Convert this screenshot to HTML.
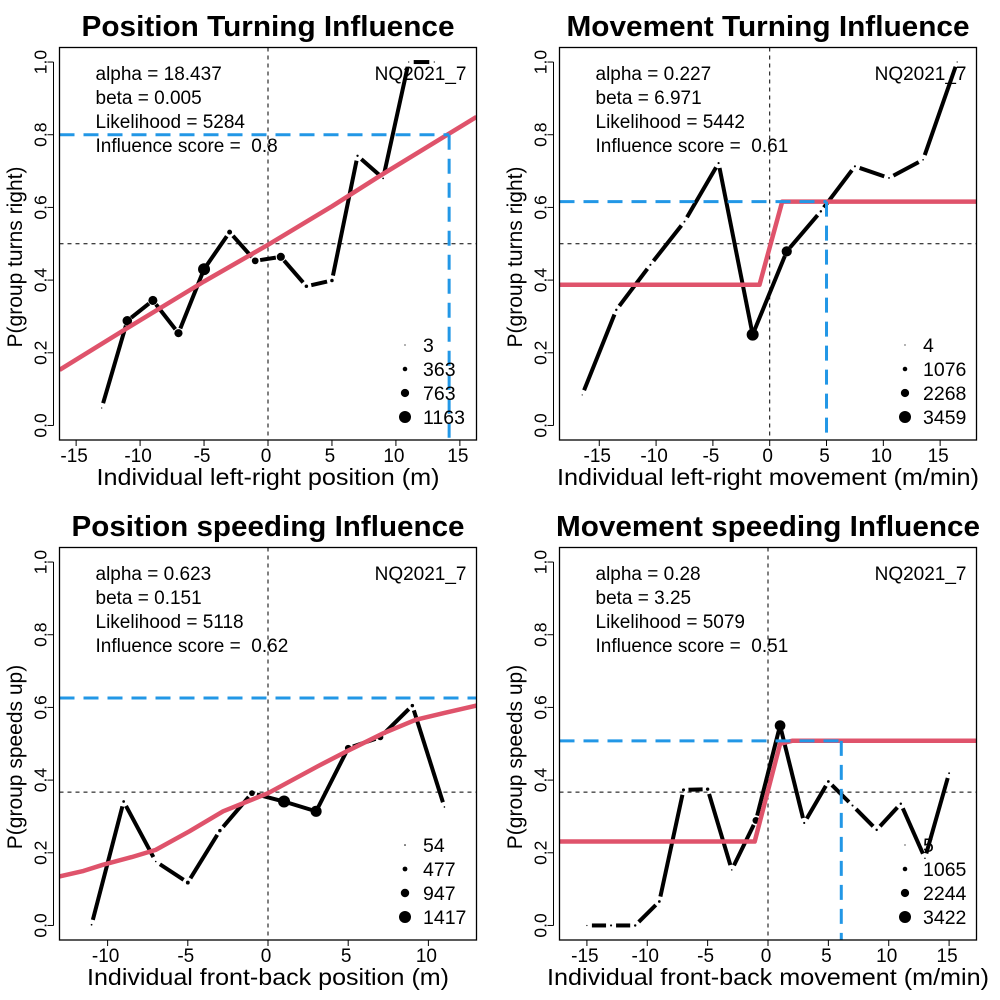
<!DOCTYPE html>
<html><head><meta charset="utf-8"><style>
html,body{margin:0;padding:0;background:#fff;}
svg{display:block;font-family:"Liberation Sans",Arial,sans-serif;}
</style></head><body>
<svg id="fig" width="1000" height="1000" viewBox="0 0 1000 1000"><rect width="1000" height="1000" fill="#fff"/></svg>
<script>
// ---- Panel 1 data ----
const p1X = [-13,-11,-9,-7,-5,-3,-1,1,3,5,7,9,11,13];
const p1Y = [0.048,0.288,0.344,0.254,0.43,0.532,0.453,0.464,0.383,0.399,0.742,0.68,1.0,1.0];
const p1N = [5,900,850,750,1163,400,600,750,250,250,120,60,8,3];
const p1CurveX = [-16.3,-11,-5,0,5,8.9,16.3];
const p1CurveY = [0.153,0.268,0.396,0.497,0.603,0.69,0.849];
const p1Legend = [3,363,763,1163];
const p1Text = ["alpha = 18.437","beta = 0.005","Likelihood = 5284","Influence score =  0.8"];
// ---- Panel 2 data ----
const p2X = [-16.5,-13.5,-10.5,-7.5,-4.5,-1.5,1.5,4.5,7.5,10.5,13.5,16.5];
const p2Y = [0.084,0.318,0.442,0.561,0.722,0.25,0.479,0.589,0.713,0.681,0.731,1.0];
const p2N = [10,400,300,250,300,3459,2900,400,300,200,150,4];
const p2CurveX = [-18.5,-0.9,1.1,18.5];
const p2CurveY = [0.387,0.387,0.616,0.616];
const p2Legend = [4,1076,2268,3459];
const p2Text = ["alpha = 0.227","beta = 6.971","Likelihood = 5442","Influence score =  0.61"];
// ---- Panel 3 data ----
const p3X = [-11,-9,-7,-5,-3,-1,1,3,5,7,9,11];
const p3Y = [0.002,0.341,0.176,0.118,0.261,0.364,0.341,0.314,0.488,0.518,0.605,0.326];
const p3N = [80,200,54,350,300,600,1417,1300,700,650,300,54];
const p3CurveX = [-13,-11.5,-10.3,-8.5,-7,-4.9,-2.8,0,3.1,4.9,7.2,9.2,11,13];
const p3CurveY = [0.135,0.15,0.167,0.188,0.208,0.259,0.314,0.364,0.438,0.479,0.529,0.566,0.585,0.605];
const p3Legend = [54,477,947,1417];
const p3Text = ["alpha = 0.623","beta = 0.151","Likelihood = 5118","Influence score =  0.62"];
// ---- Panel 4 data ----
const p4X = [-15,-13,-11,-9,-7,-5,-3,-1,1,3,5,7,9,11,13,15];
const p4Y = [0.0,0.0,0.0,0.066,0.373,0.375,0.153,0.289,0.55,0.282,0.396,0.33,0.263,0.335,0.185,0.419];
const p4N = [5,300,400,500,600,700,100,1800,3000,300,500,300,400,400,100,200];
const p4CurveX = [-17.3,-1.1,1.0,2.0,17.3];
const p4CurveY = [0.231,0.231,0.50,0.508,0.508];
const p4Legend = [5,1065,2244,3422];
const p4Text = ["alpha = 0.28","beta = 3.25","Likelihood = 5079","Influence score =  0.51"];

const NS = "http://www.w3.org/2000/svg";
const svg = document.getElementById('fig');
function mk(tag, attrs, parent){
  const e = document.createElementNS(NS, tag);
  for (const k in attrs) e.setAttribute(k, attrs[k]);
  (parent||svg).appendChild(e);
  return e;
}

const panels = [
 {ox:0, oy:0, id:"position-turning", title:"Position Turning Influence", tw:373, ylab:"P(group turns right)", xlab:"Individual left-right position (m)", xw:343,
  xmin:-16.3, xmax:16.3, xticks:[-15,-10,-5,0,5,10,15], X:p1X, Y:p1Y, N:p1N, CX:p1CurveX, CY:p1CurveY, leg:p1Legend, txt:p1Text, href:0.5, blueY:0.8, blueX:14.16},
 {ox:500, oy:0, id:"movement-turning", title:"Movement Turning Influence", tw:403, ylab:"P(group turns right)", xlab:"Individual left-right movement (m/min)", xw:422,
  xmin:-18.5, xmax:18.2, xticks:[-15,-10,-5,0,5,10,15], X:p2X, Y:p2Y, N:p2N, CX:p2CurveX, CY:p2CurveY, leg:p2Legend, txt:p2Text, href:0.5, blueY:0.616, blueX:5.0},
 {ox:0, oy:500, id:"position-speeding", title:"Position speeding Influence", tw:393, ylab:"P(group speeds up)", xlab:"Individual front-back position (m)", xw:362,
  xmin:-13, xmax:13, xticks:[-10,-5,0,5,10], X:p3X, Y:p3Y, N:p3N, CX:p3CurveX, CY:p3CurveY, leg:p3Legend, txt:p3Text, href:0.367, blueY:0.626, blueX:null},
 {ox:500, oy:500, id:"movement-speeding", title:"Movement speeding Influence", tw:424, ylab:"P(group speeds up)", xlab:"Individual front-back movement (m/min)", xw:442,
  xmin:-17.27, xmax:17.27, xticks:[-15,-10,-5,0,5,10,15], X:p4X, Y:p4Y, N:p4N, CX:p4CurveX, CY:p4CurveY, leg:p4Legend, txt:p4Text, href:0.367, blueY:0.508, blueX:6.07}
];

panels.forEach((P, pi) => {
  const L = P.ox + 59.5, R = P.ox + 476.5, T = P.oy + 47.5, B = P.oy + 440;
  const sx = v => L + (v - P.xmin) / (P.xmax - P.xmin) * (R - L);
  const sy = v => B - (v + 0.04) / 1.08 * (B - T);
  const maxN = P.leg[P.leg.length-1];
  const rad = n => 0.6 + 5.4 * n / maxN;

  const g = mk('g', {});
  
  

  const cp = mk('clipPath', {id:'clip'+pi}, g);
  mk('rect', {x:L, y:T, width:R-L, height:B-T}, cp);

  // title
  const t = mk('text', {x:(L+R)/2, y:P.oy+36, 'text-anchor':'middle', 'font-size':'29', 'font-weight':'bold', fill:'#000', textLength:P.tw, lengthAdjust:'spacingAndGlyphs'}, g);
  t.textContent = P.title;
  
  

  // y axis
  const ya = mk('g', {}, g);
  
  
  mk('line', {x1:L-6, x2:L-6, y1:sy(0), y2:sy(1), stroke:'#000', 'stroke-width':1}, ya);
  [0,0.2,0.4,0.6,0.8,1.0].forEach(v => {
    mk('line', {x1:L-12, x2:L-6, y1:sy(v), y2:sy(v), stroke:'#000', 'stroke-width':1}, ya);
    const tl = mk('text', {x:0, y:0, transform:`translate(${L-13},${sy(v)}) rotate(-90)`, 'text-anchor':'middle', 'font-size':'17.5'}, ya);
    tl.textContent = v.toFixed(1);
    
    
  });
  const yt = mk('text', {x:0, y:0, transform:`translate(${P.ox+22},${P.oy+257}) rotate(-90)`, 'text-anchor':'middle', 'font-size':'21'}, ya);
  yt.textContent = P.ylab;
  
  

  // x axis
  const xa = mk('g', {}, g);
  
  
  P.xticks.forEach(v => {
    mk('line', {x1:sx(v), x2:sx(v), y1:B, y2:B+6, stroke:'#000', 'stroke-width':1}, xa);
    const tl = mk('text', {x:sx(v)-2, y:B+22, 'text-anchor':'middle', 'font-size':'19'}, xa);
    tl.textContent = String(v);
    
    
  });
  const xt = mk('text', {x:(L+R)/2, y:P.oy+485, 'text-anchor':'middle', 'font-size':'23.5', textLength:P.xw, lengthAdjust:'spacingAndGlyphs'}, xa);
  xt.textContent = P.xlab;
  
  

  const pg = mk('g', {'clip-path':`url(#clip${pi})`}, g);
  // reference lines
  const vl = mk('line', {x1:sx(0), x2:sx(0), y1:T, y2:B, stroke:'#000', 'stroke-width':1, 'stroke-dasharray':'4,4'}, pg);
  
  
  const hl = mk('line', {x1:L, x2:R, y1:sy(P.href), y2:sy(P.href), stroke:'#000', 'stroke-width':1, 'stroke-dasharray':'4,4'}, pg);
  
  

  // data line (type b, with gaps)
  const dl = mk('g', {}, pg);
  
  
  const gap = 5;
  for (let i = 0; i < P.X.length - 1; i++) {
    const x1 = sx(P.X[i]), y1 = sy(P.Y[i]), x2 = sx(P.X[i+1]), y2 = sy(P.Y[i+1]);
    const d = Math.hypot(x2-x1, y2-y1);
    if (d <= 2*gap) continue;
    const ux = (x2-x1)/d, uy = (y2-y1)/d;
    mk('line', {x1:x1+ux*gap, y1:y1+uy*gap, x2:x2-ux*gap, y2:y2-uy*gap, stroke:'#000', 'stroke-width':4}, dl);
  }
  P.X.forEach((xv, i) => {
    const c = mk('circle', {cx:sx(xv), cy:sy(P.Y[i]), r:rad(P.N[i]), fill:'#000'}, dl);
    
    
  });

  // fitted curve
  const pts = P.CX.map((xv,i) => sx(xv).toFixed(1)+','+sy(P.CY[i]).toFixed(1)).join(' ');
  const fc = mk('polyline', {points:pts, fill:'none', stroke:'#DF536B', 'stroke-width':4.5, 'stroke-linejoin':'round'}, pg);
  
  

  // blue influence lines
  const bx = P.blueX === null ? R : sx(P.blueX);
  const bh = mk('line', {x1:L, x2:bx, y1:sy(P.blueY), y2:sy(P.blueY), stroke:'#2297E6', 'stroke-width':3, 'stroke-dasharray':'15,9'}, pg);
  
  
  if (P.blueX !== null) {
    const bv = mk('line', {x1:bx, x2:bx, y1:sy(P.blueY), y2:B, stroke:'#2297E6', 'stroke-width':3, 'stroke-dasharray':'15,9'}, pg);
    
    
  }

  // box
  const bx2 = mk('rect', {x:L, y:T, width:R-L, height:B-T, fill:'none', stroke:'#000', 'stroke-width':1.3}, g);
  
  

  // annotation text
  P.txt.forEach((s, i) => {
    const a = mk('text', {x:P.ox+95.5, y:P.oy+80+i*24, 'font-size':'19', 'xml:space':'preserve', style:'white-space:pre'}, g);
    a.textContent = s;
    
    
  });
  const nq = mk('text', {x:P.ox+466.5, y:P.oy+80, 'text-anchor':'end', 'font-size':'19'}, g);
  nq.textContent = 'NQ2021_7';
  
  

  // legend
  const lg = mk('g', {}, g);
  
  
  P.leg.forEach((n, i) => {
    const cy = P.oy + 345 + i * 24;
    mk('circle', {cx:P.ox+405, cy:cy, r:rad(n), fill:'#000'}, lg);
    const lt = mk('text', {x:P.ox+423, y:cy+7, 'font-size':'19.5'}, lg);
    lt.textContent = String(n);
    
    
  });
});
</script>
</body></html>
